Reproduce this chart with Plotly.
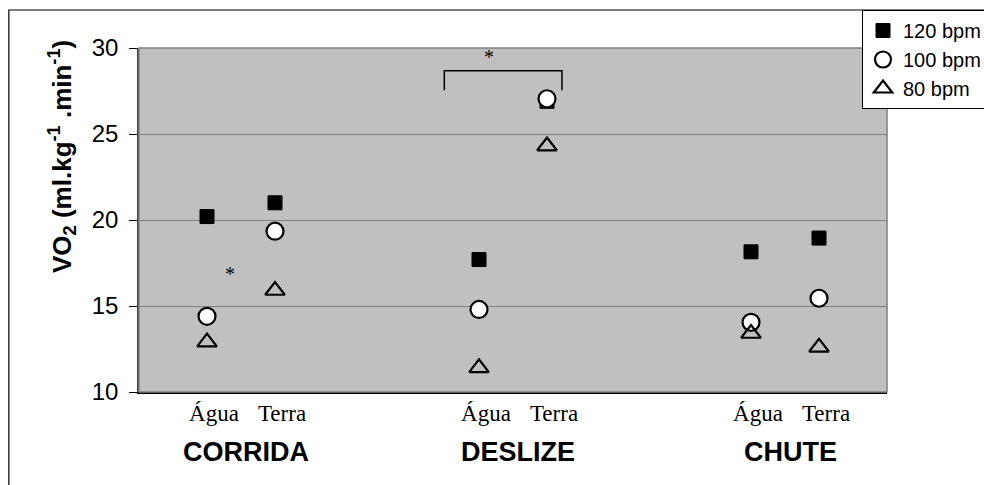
import plotly.graph_objects as go

# ---- data ----
groups = ["CORRIDA", "DESLIZE", "CHUTE"]
conditions = ["Água", "Terra"]
series_names = ["120 bpm", "100 bpm", "80 bpm"]
vo2_120 = [20.2, 21.0, 17.7, 26.9, 18.15, 18.95]
vo2_100 = [14.4, 19.35, 14.8, 27.05, 14.05, 15.45]
vo2_80 = [12.9, 15.9, 11.4, 24.3, 13.4, 12.6]
y_ticks = [10, 15, 20, 25, 30]

# x position of each (group, condition) pair on a numeric axis
group_step = 4
xs, xlabels = [], []
for gi, g in enumerate(groups):
    for ci, c in enumerate(conditions):
        xs.append(gi * group_step + ci + 1)
        xlabels.append(c)
group_centers = [gi * group_step + 1.5 for gi in range(len(groups))]

fig = go.Figure()
styles = [
    dict(symbol="square", size=14, color="black", line=dict(color="black", width=1)),
    dict(symbol="circle", size=17, color="white", line=dict(color="black", width=2.2)),
    dict(symbol="triangle-up-open", size=17, color="black", line=dict(color="black", width=2.2)),
]
for name, vals, st in zip(series_names, [vo2_120, vo2_100, vo2_80], styles):
    fig.add_trace(go.Scatter(x=xs, y=vals, mode="markers", name=name,
                             marker=st, cliponaxis=False))

# significance marks
fig.add_shape(type="path", xref="x", yref="y",
              path="M 4.49 27.55 L 4.49 28.68 L 6.22 28.68 L 6.22 27.55",
              line=dict(color="black", width=1.5))
fig.add_annotation(x=5.15, y=29.45, xref="x", yref="y", text="*", showarrow=False,
                   font=dict(family="Liberation Serif", size=20, color="black"))
fig.add_annotation(x=1.34, y=16.85, xref="x", yref="y", text="*", showarrow=False,
                   font=dict(family="Liberation Serif", size=20, color="black"))

# group labels
for g, cx in zip(groups, group_centers):
    fig.add_annotation(x=cx, y=-0.175, xref="x", yref="paper", text="<b>%s</b>" % g,
                       showarrow=False, xshift=5, yanchor="middle",
                       font=dict(family="Arial, Liberation Sans", size=27, color="black"))

# y axis title
fig.add_annotation(x=-0.103, y=0.686, xref="paper", yref="paper",
                   text="<b>VO<sub>2</sub> (ml.kg<sup>-1</sup> .min<sup>-1</sup>)</b>",
                   textangle=-90, showarrow=False, xanchor="center", yanchor="middle",
                   font=dict(family="Arial, Liberation Sans", size=26, color="black"))

# outer chart border
fig.add_shape(type="rect", xref="paper", yref="paper", x0=-0.174, x1=1.2, y0=-0.3,
              y1=(392 - 10) / 344, line=dict(color="black", width=1.2), layer="below")
# plot area frame
fig.add_shape(type="rect", xref="paper", yref="paper", x0=0, x1=1, y0=0, y1=1,
              line=dict(color="#808080", width=1.5), layer="above")

fig.update_xaxes(range=[0, 11], tickmode="array", tickvals=xs, ticktext=xlabels,
                 showgrid=False, zeroline=False, showline=True, linecolor="black",
                 linewidth=1.5, ticks="", ticklabelshift=7,
                 tickfont=dict(family="Liberation Serif", size=23, color="black"))
fig.update_yaxes(range=[10, 30], tickmode="array", tickvals=y_ticks,
                 showgrid=True, gridcolor="#808080", gridwidth=1, zeroline=False,
                 showline=True, linecolor="#404040", linewidth=1.5,
                 ticks="outside", ticklen=8, tickcolor="black", tickwidth=1,
                 ticklabelstandoff=6,
                 tickfont=dict(family="Arial, Liberation Sans", size=24, color="black"))

fig.update_layout(
    width=984, height=485,
    margin=dict(l=139, r=97, t=48, b=93, autoexpand=False),
    plot_bgcolor="#C0C0C0", paper_bgcolor="white",
    showlegend=True,
    legend=dict(xref="container", yref="container", x=862 / 984, y=1 - 10 / 485,
                xanchor="left", yanchor="top",
                bgcolor="white", bordercolor="black", borderwidth=1,
                font=dict(family="Arial, Liberation Sans", size=20, color="black"),
                tracegroupgap=0, itemwidth=30),
)

fig.write_html("out.html")
